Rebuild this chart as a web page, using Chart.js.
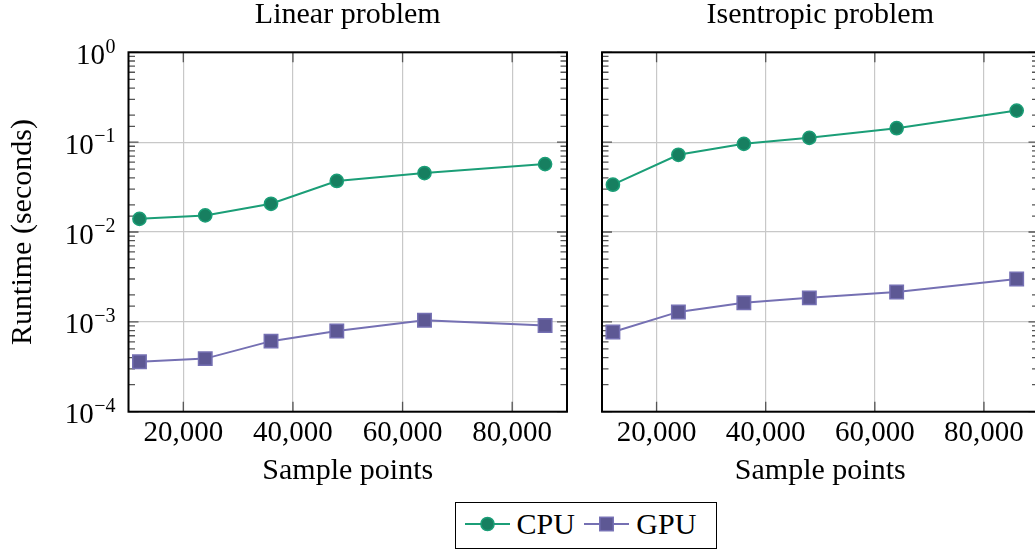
<!DOCTYPE html>
<html>
<head>
<meta charset="utf-8">
<title>Runtime vs sample points</title>
<script src="https://cdn.jsdelivr.net/npm/chart.js@4.4.0/dist/chart.umd.min.js"></script>
<style>
  html, body { margin: 0; padding: 0; background: #fff; overflow: hidden; }
  #quadro { position: relative; width: 1035px; height: 551px; overflow: hidden; }
  canvas { position: absolute; top: 0; }
  #painelLinear { left: 0; }
  #painelIsentropico { left: 580px; }
  #legenda {
    position: absolute; left: 455px; top: 502px; width: 262px; height: 47px;
    box-sizing: border-box; border: 1.5px solid #000; background: #fff;
    display: flex; align-items: center; padding-bottom: 4px;
    font-family: 'Liberation Serif', 'Times New Roman', serif; font-size: 30px; color: #000;
  }
  #legenda svg { display: block; }
</style>
</head>
<body>
<div id="quadro">
  <canvas id="painelLinear" width="580" height="500"></canvas>
  <canvas id="painelIsentropico" width="480" height="500"></canvas>
  <div id="legenda"></div>
</div>
<script>
// dados
const sampleCounts = [12000, 24000, 36000, 48000, 64000, 86000];
const linearCpu = [0.0140, 0.0153, 0.0206, 0.0370, 0.0453, 0.0570];
const linearGpu = [0.00036, 0.00039, 0.00061, 0.00079, 0.00104, 0.00091];
const isentropicCpu = [0.0336, 0.0723, 0.0958, 0.1116, 0.1430, 0.2245];
const isentropicGpu = [0.00077, 0.00129, 0.00163, 0.00185, 0.00215, 0.00300];
const xTicks = [20000, 40000, 60000, 80000];
const yExponents = [0, -1, -2, -3, -4];
const seriesNames = ['CPU', 'GPU'];
const panelTitles = ['Linear problem', 'Isentropic problem'];

const FONT = "'Liberation Serif', 'Times New Roman', serif";
const estilos = {
  CPU: { linha: '#1b9e77', preenchimento: '#177f60', forma: 'circle', raio: 6.6 },
  GPU: { linha: '#7570b3', preenchimento: '#5d5894', forma: 'rect', raio: 9.5 }
};

const ehMaior = v => Math.abs(Math.log10(v) - Math.round(Math.log10(v))) < 1e-6;

const serie = (nome, valores) => {
  const e = estilos[nome];
  return {
    label: nome,
    data: sampleCounts.map((x, i) => ({ x, y: valores[i] })),
    borderColor: e.linha,
    backgroundColor: e.preenchimento,
    borderWidth: 2,
    pointStyle: e.forma,
    pointRadius: e.raio,
    pointBackgroundColor: e.preenchimento,
    pointBorderColor: e.linha,
    pointBorderWidth: 1.5,
    tension: 0
  };
};

const moldura = (titulo, comRotulos) => ({
  id: 'moldura',
  beforeDatasetsDraw(chart) {
    const { ctx, chartArea: a, scales } = chart;
    ctx.save();
    ctx.strokeStyle = '#555';
    ctx.lineWidth = 1.3;
    ctx.beginPath();
    scales.x.ticks.forEach(t => {
      const px = scales.x.getPixelForValue(t.value);
      ctx.moveTo(px, a.top); ctx.lineTo(px, a.top + 10);
      ctx.moveTo(px, a.bottom); ctx.lineTo(px, a.bottom - 10);
    });
    scales.y.ticks.forEach(t => {
      const py = scales.y.getPixelForValue(t.value);
      const len = ehMaior(t.value) ? 10 : 6.5;
      ctx.moveTo(a.left, py); ctx.lineTo(a.left + len, py);
      ctx.moveTo(a.right, py); ctx.lineTo(a.right - len, py);
    });
    ctx.stroke();
    ctx.strokeStyle = '#000';
    ctx.lineWidth = 2;
    ctx.strokeRect(a.left, a.top, a.right - a.left, a.bottom - a.top);
    ctx.restore();
  },
  afterDraw(chart) {
    const { ctx, chartArea: a, scales } = chart;
    ctx.save();
    ctx.fillStyle = '#000';
    ctx.font = `30px ${FONT}`;
    ctx.textAlign = 'center';
    ctx.textBaseline = 'alphabetic';
    ctx.fillText(titulo, (a.left + a.right) / 2, 23);
    if (comRotulos) {
      ctx.textAlign = 'right';
      ctx.textBaseline = 'middle';
      yExponents.forEach(e => {
        const py = scales.y.getPixelForValue(Math.pow(10, e));
        const dir = a.left - 13;
        const sup = e < 0 ? '\u2212' + (-e) : String(e);
        ctx.font = `20px ${FONT}`;
        const w = ctx.measureText(sup).width;
        ctx.fillText(sup, dir, py - 5);
        ctx.font = `29px ${FONT}`;
        ctx.fillText('10', dir - w - 0.5, py + 4);
      });
    }
    ctx.restore();
  }
});

function criarPainel(id, titulo, cpu, gpu, comEixoY, larguraY, padDir) {
  const canvas = document.getElementById(id);
  return new Chart(canvas.getContext('2d'), {
    type: 'line',
    data: { datasets: [serie('CPU', cpu), serie('GPU', gpu)] },
    options: {
      responsive: false,
      animation: false,
      devicePixelRatio: 1,
      layout: { padding: { top: 52.3, right: padDir, bottom: 0, left: 0 } },
      plugins: { legend: { display: false }, tooltip: { enabled: false }, title: { display: false } },
      scales: {
        x: {
          type: 'linear',
          min: 10000,
          max: 90000,
          afterBuildTicks: s => { s.ticks = xTicks.map(v => ({ value: v })); },
          afterFit: s => { s.height = 88.3; },
          ticks: {
            autoSkip: false, maxRotation: 0, padding: 4, color: '#000',
            font: { family: FONT, size: 29 },
            callback: v => v.toLocaleString('en-US')
          },
          grid: { color: '#c8c8c8', lineWidth: 1.2, drawTicks: false },
          border: { display: false },
          title: {
            display: true, text: 'Sample points', color: '#000',
            font: { family: FONT, size: 30 }, padding: { top: 0, bottom: 11 }
          }
        },
        y: {
          type: 'logarithmic',
          min: 1e-4,
          max: 1,
          afterFit: s => { s.width = larguraY; },
          ticks: { display: false },
          grid: {
            color: c => ehMaior(c.tick.value) ? '#c8c8c8' : 'rgba(0,0,0,0)',
            lineWidth: 1.2, drawTicks: false
          },
          border: { display: false },
          title: {
            display: comEixoY, text: 'Runtime (seconds)', color: '#000',
            font: { family: FONT, size: 30 }, padding: { top: 5, bottom: 0 }
          }
        }
      }
    },
    plugins: [moldura(titulo, comEixoY)]
  });
}

criarPainel('painelLinear', panelTitles[0], linearCpu, linearGpu, true, 128.5, 13);
criarPainel('painelIsentropico', panelTitles[1], isentropicCpu, isentropicGpu, false, 22, 21.5);

// legenda
const legenda = document.getElementById('legenda');
seriesNames.forEach((nome, i) => {
  const e = estilos[nome];
  const marca = e.forma === 'circle'
    ? `<circle cx="22.5" cy="10" r="${e.raio}" fill="${e.preenchimento}" stroke="${e.linha}" stroke-width="1.5"/>`
    : `<rect x="${22.5 - e.raio * Math.SQRT1_2}" y="${10 - e.raio * Math.SQRT1_2}" width="${2 * e.raio * Math.SQRT1_2}" height="${2 * e.raio * Math.SQRT1_2}" fill="${e.preenchimento}" stroke="${e.linha}" stroke-width="1.5"/>`;
  const item = document.createElement('span');
  item.style.display = 'flex';
  item.style.alignItems = 'center';
  item.style.marginLeft = i === 0 ? '8.5px' : '9.5px';
  item.innerHTML = `<svg width="45" height="20"><line x1="0" y1="10" x2="45" y2="10" stroke="${e.linha}" stroke-width="2"/>${marca}</svg><span style="margin-left:7px">${nome}</span>`;
  legenda.appendChild(item);
});
</script>
</body>
</html>
